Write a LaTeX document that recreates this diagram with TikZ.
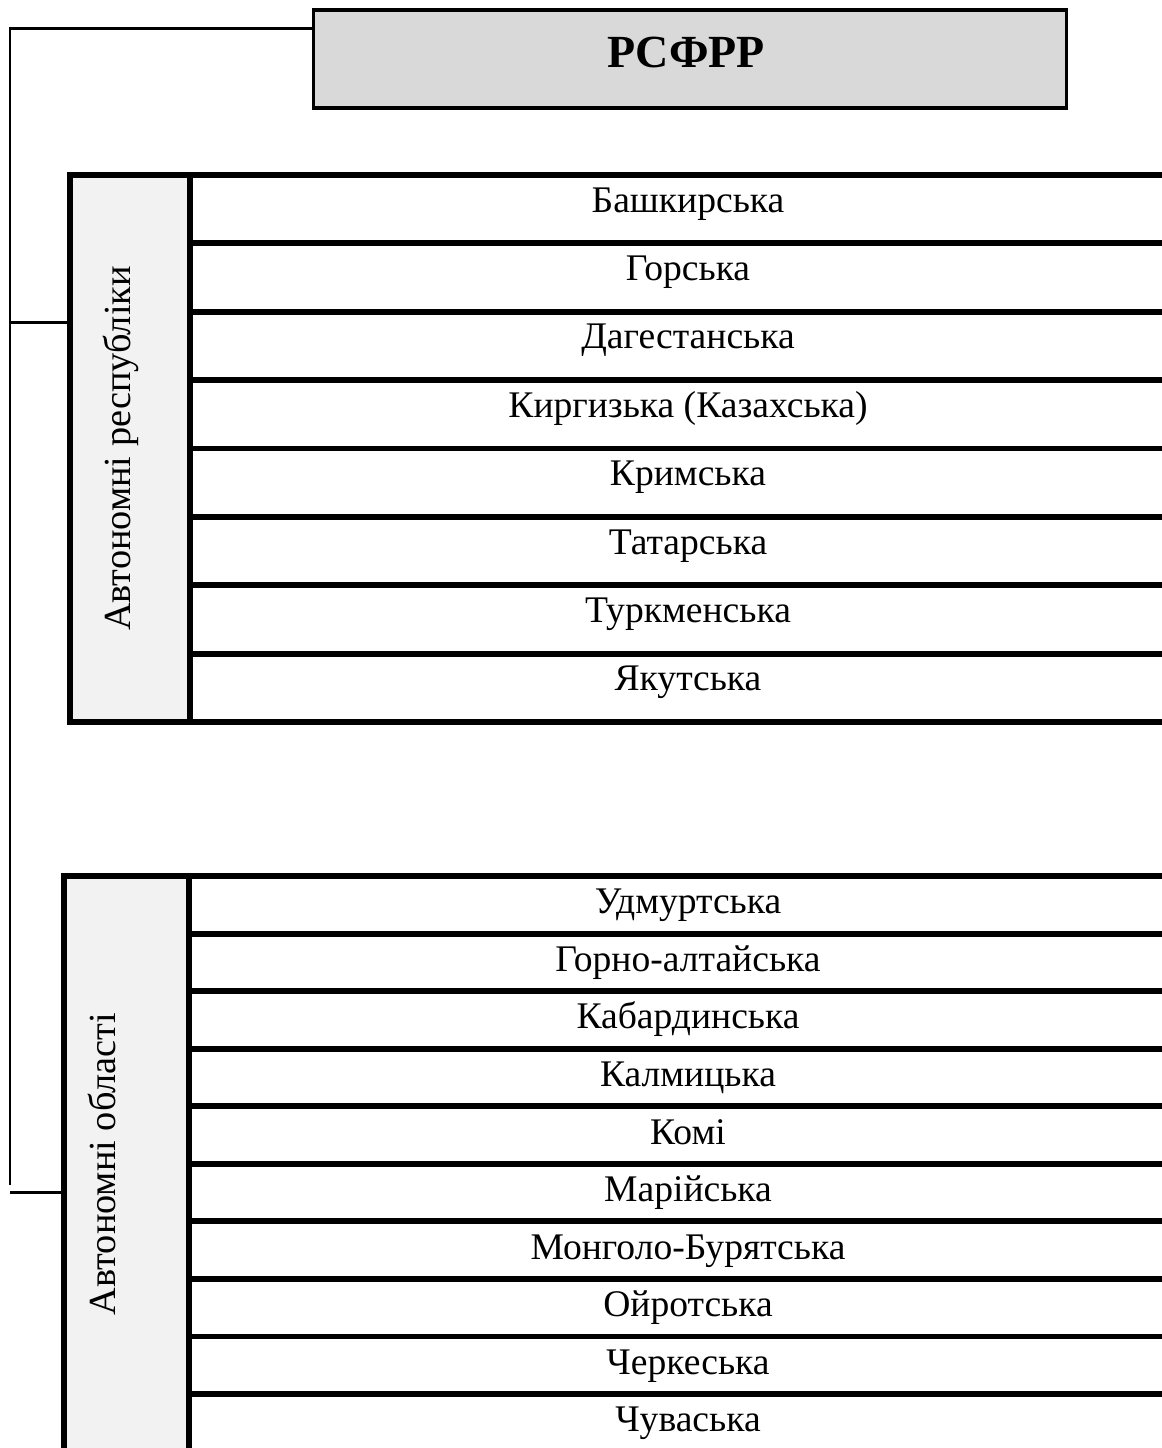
\documentclass[tikz,border=0pt]{standalone}
\usepackage{fontspec}
\setmainfont{Liberation Serif}

\begin{document}
\begin{tikzpicture}[x=0.02cm,y=-0.02cm,
  link/.style={line width=1.7pt},
  tline/.style={line width=3.4pt},
  rowtext/.style={font=\fontsize{21.4}{25}\selectfont,anchor=base},
  sidetext/.style={font=\fontsize{21.8}{25}\selectfont,anchor=base,rotate=90}]
\path[use as bounding box,clip] (0,0) rectangle (1162,1448);
\node[draw,fill=black!15,line width=2pt,minimum width=15.06cm,minimum height=1.96cm] (rsfrr) at (690,59) {};
\node[font=\fontsize{26.2}{30}\selectfont\bfseries,anchor=base] (rsfrrtitle) at (686,67) {РСФРР};
\fill[black!5] (70,175) rectangle (190,722);
\draw[tline] (70,175) rectangle (1186,722);
\draw[tline] (190,175) -- (190,722);
\foreach \i in {1,...,7}
  \draw[tline] (190,{175+68.375*\i}) -- (1186,{175+68.375*\i});
\node[sidetext] (resp) at (130,448.5) {Автономні республіки};
\foreach \t [count=\i] in {Башкирська,Горська,Дагестанська,Киргизька (Казахська),Кримська,Татарська,Туркменська,Якутська}
  \node[rowtext] (resp\i) at (688,{175+68.375*(\i-0.5)+3}) {\t};
\fill[black!5] (64,876) rectangle (189,1452);
\draw[tline] (64,876) rectangle (1186,1452);
\draw[tline] (189,876) -- (189,1452);
\foreach \i in {1,...,9}
  \draw[tline] (189,{876+57.56*\i}) -- (1186,{876+57.56*\i});
\node[sidetext] (obl) at (115,1164) {Автономні області};
\foreach \t [count=\i] in {Удмуртська,Горно-алтайська,Кабардинська,Калмицька,Комі,Марійська,Монголо-Бурятська,Ойротська,Черкеська,Чуваська}
  \node[rowtext] (obl\i) at (688,{876+57.56*(\i-0.5)+9}) {\t};
\coordinate (top) at (314,28);
\coordinate (spinetop) at (10,28);
\coordinate (spinebot) at (10,1185);
\coordinate (b1) at (73,322);
\coordinate (b2) at (67,1192);
\draw[link] (top) -- (spinetop) -- (spinebot);
\draw[link] (spinetop |- b1) -- (b1);
\draw[link] (spinetop |- b2) -- (b2);
\end{tikzpicture}
\end{document}
